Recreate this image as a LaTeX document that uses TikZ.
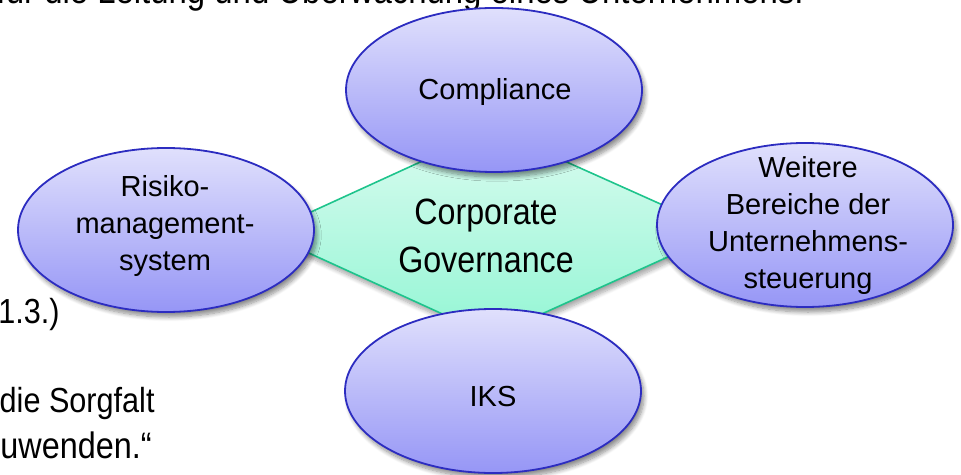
\documentclass[tikz,border=0pt]{standalone}
\usepackage{fontspec}
\setmainfont{Liberation Sans}
\newfontfamily\narrowfont[FakeStretch=0.88]{Liberation Sans}
\usetikzlibrary{shapes.geometric,shadows.blur}
\usepackage{xcolor}

\definecolor{bubbletop}{RGB}{224,224,252}
\definecolor{bubblebottom}{RGB}{150,150,246}
\definecolor{bubbleedge}{RGB}{44,44,192}
\definecolor{hubtop}{RGB}{214,251,238}
\definecolor{hubbottom}{RGB}{152,246,214}
\definecolor{hubedge}{RGB}{30,196,140}

\begin{document}
\begin{tikzpicture}[
  x=0.5pt, y=-0.5pt,
  bubble/.style={ellipse, draw=bubbleedge, line width=0.9pt, top color=bubbletop, bottom color=bubblebottom,
    minimum width=148pt, minimum height=82pt, inner sep=0pt,
    blur shadow={shadow xshift=1.5pt, shadow yshift=-2.5pt, shadow blur steps=8, shadow opacity=45}},
  bubbletext/.style={align=center, inner sep=0pt, font=\fontsize{14.5}{18.5}\selectfont},
  hubtext/.style={align=center, inner sep=0pt, font=\narrowfont\fontsize{18.3}{24}\selectfont},
  hub/.style={draw=hubedge, line width=0.8pt, top color=hubtop, bottom color=hubbottom,
    blur shadow={shadow xshift=1pt, shadow yshift=-2.5pt, shadow blur steps=8, shadow opacity=35}},
  slide/.style={anchor=base east, inner sep=0pt, font=\narrowfont\fontsize{17.4}{23}\selectfont}
]
\useasboundingbox (0,0) rectangle (961,475);
\clip (0,0) rectangle (961,475);

% slide text behind the diagram
\node[slide, font=\narrowfont\fontsize{18.7}{24}\selectfont] (line1) at (804,4) {für die Leitung und Überwachung eines Unternehmens.};
\node[slide] (line2) at (60,323) {1.3.)};
\node[slide] (line3) at (155,412) {die Sorgfalt};
\node[slide, font=\narrowfont\fontsize{18.4}{23}\selectfont] (line4) at (152,458) {uwenden.“};

% hexagon in the middle
\draw[hub] (265,233) -- (464,142) -- (522,142) -- (723,232) -- (524,322) -- (460,322) -- cycle;
\node[hubtext] (cg) at (486,236) {Corporate\\Governance};

% the four areas round it
\node[bubble] (comp) at (494,90) {};
\node[bubble] (risk) at (166,230) {};
\node[bubble] (more) at (805,225) {};
\node[bubble] (iks) at (493,391) {};

\node[bubbletext] (comptext) at (495,92) {Compliance};
\node[bubbletext] (risktext) at (165,226) {Risiko-\\management-\\system};
\node[bubbletext] (moretext) at (808,226) {Weitere\\Bereiche der\\Unternehmens-\\steuerung};
\node[bubbletext] (ikstext) at (493,397) {IKS};
\end{tikzpicture}
\end{document}
